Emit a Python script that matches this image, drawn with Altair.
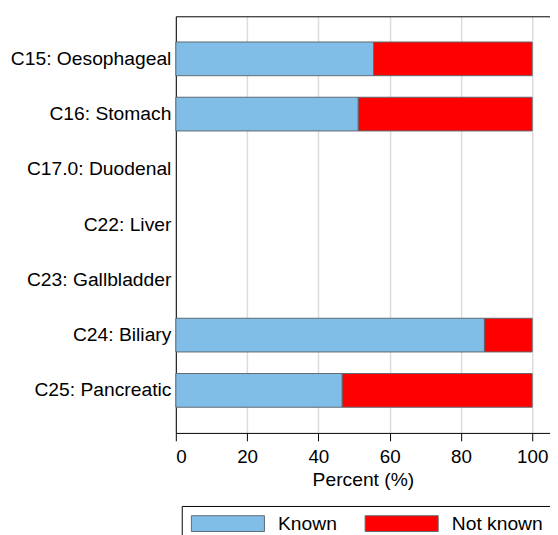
import altair as alt
import pandas as pd

categories = [
    "C15: Oesophageal",
    "C16: Stomach",
    "C17.0: Duodenal",
    "C22: Liver",
    "C23: Gallbladder",
    "C24: Biliary",
    "C25: Pancreatic",
]
known_pct = [55.5, 51.2, None, None, None, 86.6, 46.7]
statuses = ["Known", "Not known"]
status_colors = ["#80bde7", "#ff0000"]
x_ticks = [0, 20, 40, 60, 80, 100]

rows = []
for site, k in zip(categories, known_pct):
    if k is None:
        continue
    rows.append({"site": site, "status": "Known", "pct": k, "order": 0})
    rows.append({"site": site, "status": "Not known", "pct": round(100 - k, 1), "order": 1})
df = pd.DataFrame(rows)

FONT = "Liberation Sans"
FS = 19.5

xscale = alt.Scale(domain=[0, 105], nice=False, zero=True)
yscale = alt.Scale(domain=categories, paddingInner=0.39, paddingOuter=0.465)

bars = alt.Chart(df).mark_bar(stroke="#5f6a72", strokeWidth=1).encode(
    x=alt.X(
        "pct:Q",
        stack="zero",
        scale=xscale,
        axis=alt.Axis(
            values=x_ticks,
            title="Percent (%)",
            grid=True,
            gridColor="#dcdcdc",
            gridWidth=1.5,
            tickColor="black",
            tickSize=8,
            domainColor="black",
            labelPadding=7,
            labelFontSize=19,
            titleFontSize=FS,
            titleFontWeight="normal",
            titlePadding=4,
        ),
    ),
    y=alt.Y(
        "site:N",
        scale=yscale,
        axis=alt.Axis(
            title=None,
            ticks=False,
            domainColor="black",
            labelPadding=5,
            labelFontSize=FS,
            labelLimit=0,
            grid=False,
        ),
    ),
    color=alt.Color(
        "status:N",
        scale=alt.Scale(domain=statuses, range=status_colors),
        legend=alt.Legend(
            title=None,
            orient="none",
            legendX=6,
            legendY=496,
            direction="horizontal",
            columns=2,
            symbolType="M-1,-1L8.25,-1L8.25,1L-1,1Z",
            symbolSize=256,
            symbolOpacity=1,
            symbolStrokeColor="#5f6a72",
            symbolStrokeWidth=1,
            labelFontSize=FS,
            labelFont=FONT,
            labelColor="black",
            labelOffset=70,
            columnPadding=25,
            padding=8,
            strokeColor="black",
            fillColor="white",
            cornerRadius=0,
        ),
    ),
    order=alt.Order("order:Q"),
)

top_frame = alt.Chart(pd.DataFrame({"v": [0]})).mark_point(opacity=0).encode(
    x=alt.X(
        "v:Q",
        scale=xscale,
        axis=alt.Axis(
            orient="top",
            labels=False,
            ticks=False,
            grid=False,
            title=None,
            domainColor="black",
        ),
    )
)

chart = (
    alt.layer(bars, top_frame)
    .resolve_axis(x="independent")
    .properties(
        width=379,
        height=422,
        autosize=alt.AutoSizeParams(type="none"),
        padding={"left": 170, "top": 5, "right": 0, "bottom": 100},
    )
    .configure_view(stroke=None)
    .configure_axis(
        labelFont=FONT,
        titleFont=FONT,
        labelColor="black",
        titleColor="black",
        domainWidth=1,
    )
)

chart.save("out.html", embed_options={"renderer": "svg", "actions": False})
